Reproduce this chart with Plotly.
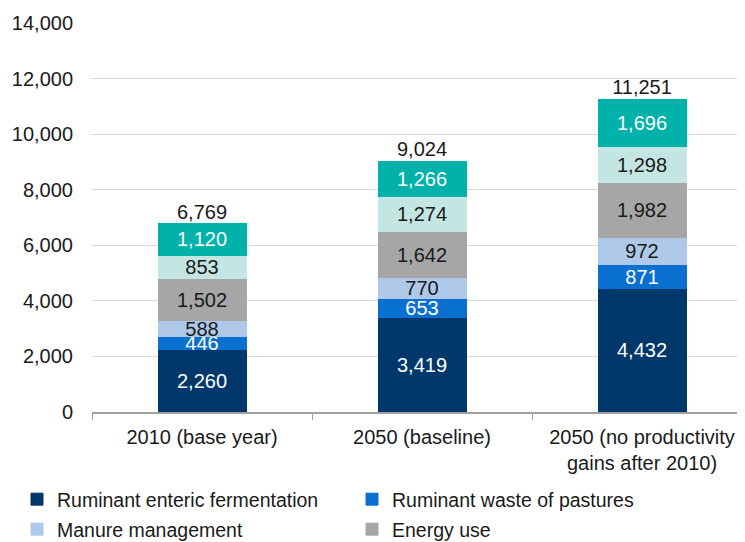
import plotly.graph_objects as go

categories = ["2010 (base year)", "2050 (baseline)", "2050 (no productivity<br>gains after 2010)"]

enteric = [2260, 3419, 4432]
waste_pastures = [446, 653, 871]
manure = [588, 770, 972]
energy = [1502, 1642, 1982]
feed = [853, 1274, 1298]
land_use = [1120, 1266, 1696]
totals = [6769, 9024, 11251]

# The page adds an 8px body margin, so the figure is 8px smaller and shifted.
W, H = 737, 534

series = [
    ("Ruminant enteric fermentation", enteric, "#00386b", "white", True, "legend"),
    ("Ruminant waste of pastures", waste_pastures, "#0a70d0", "white", True, "legend2"),
    ("Manure management", manure, "#aec8ea", "#1a1a1a", True, "legend3"),
    ("Energy use", energy, "#a6a6a6", "#1a1a1a", True, "legend4"),
    ("Feed production", feed, "#c3e6e2", "#1a1a1a", False, "legend"),
    ("Land-use change", land_use, "#00b2a9", "white", False, "legend"),
]

FONT = "Liberation Sans, Arial, sans-serif"
fig = go.Figure()
for name, vals, color, tcolor, show, leg in series:
    fig.add_trace(go.Bar(
        name=name, x=categories, y=vals,
        marker=dict(color=color, line=dict(color=color, width=1)),
        text=[f"{v:,}" for v in vals],
        textposition="inside", insidetextanchor="middle",
        constraintext="none",
        textfont=dict(color=tcolor, size=20, family=FONT),
        showlegend=show, legend=leg,
        hoverinfo="skip",
    ))

fig.add_trace(go.Scatter(
    x=categories, y=totals, mode="text",
    text=[f"{v:,}" for v in totals],
    textposition="top center",
    textfont=dict(color="#1a1a1a", size=20, family=FONT),
    showlegend=False, hoverinfo="skip", cliponaxis=False,
))

leg_common = dict(orientation="h", xref="container", yref="container",
                  xanchor="left", yanchor="top",
                  font=dict(size=19.5, family=FONT),
                  bgcolor="rgba(0,0,0,0)")

fig.update_layout(
    width=W, height=H,
    barmode="stack", bargap=0.6,
    margin=dict(l=84, r=0, t=15, b=130, autoexpand=False),
    paper_bgcolor="white", plot_bgcolor="white",
    font=dict(family=FONT, size=20, color="#1a1a1a"),
    separators=".,",
    legend=dict(x=9 / W, y=1 - 472 / H, **leg_common),
    legend2=dict(x=344 / W, y=1 - 472 / H, **leg_common),
    legend3=dict(x=9 / W, y=1 - 502 / H, **leg_common),
    legend4=dict(x=344 / W, y=1 - 502 / H, **leg_common),
)

fig.update_xaxes(
    range=[-0.5, -0.5 + 653 / 220], automargin=False,
    showline=True, linecolor="#a0a0a0", linewidth=1.5,
    ticks="outside", tickson="boundaries", ticklen=6, tickcolor="#a0a0a0",
    ticklabelstandoff=6,
    showgrid=False, tickfont=dict(size=20, family=FONT),
)
fig.update_yaxes(
    range=[0, 14000], dtick=2000, tickformat=",", automargin=False,
    showgrid=True, gridcolor="#d9d9d9", gridwidth=1,
    zeroline=False, showline=False, ticks="",
    ticklabelstandoff=18, tickfont=dict(size=20, family=FONT),
)

fig.write_html("out.html")
